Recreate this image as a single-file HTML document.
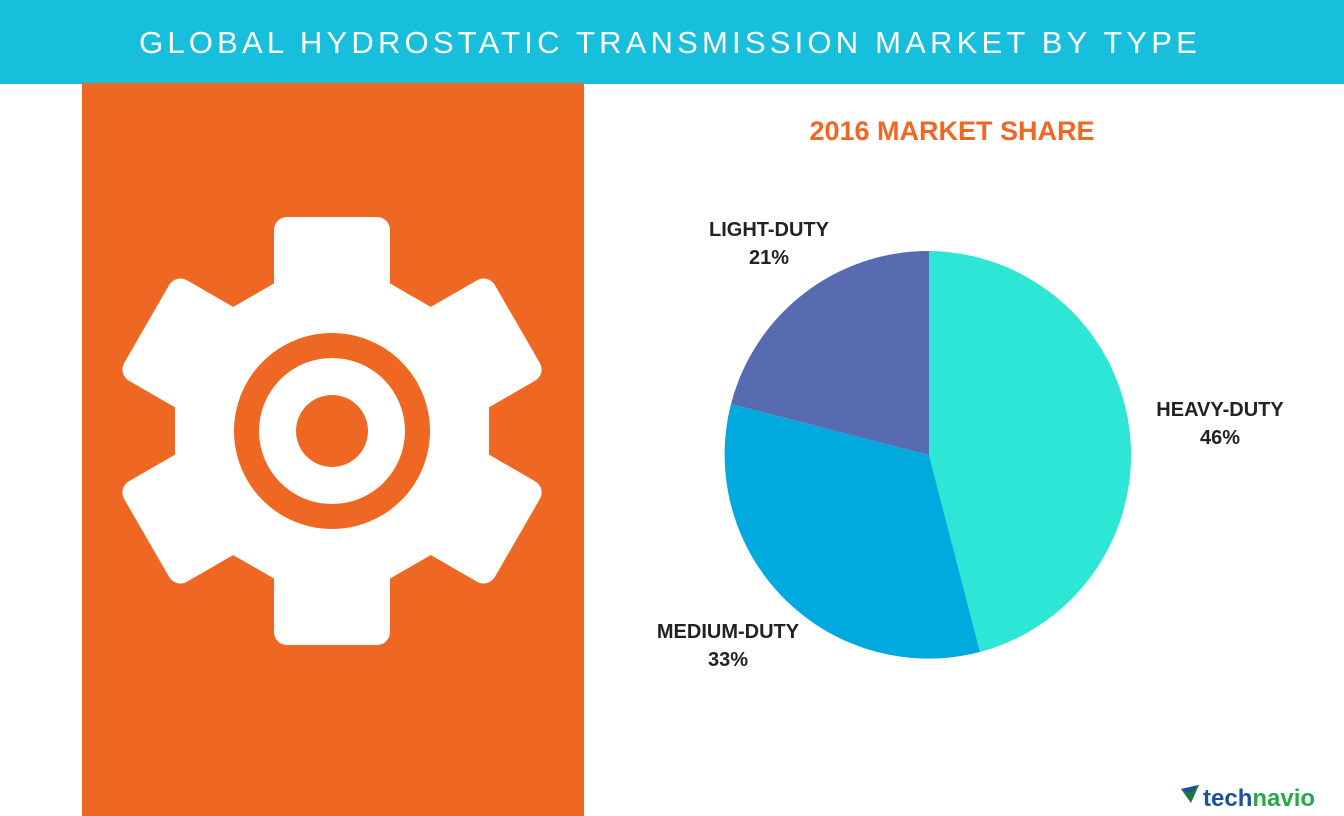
<!DOCTYPE html>
<html><head><meta charset="utf-8"><style>
html,body{margin:0;padding:0;width:1344px;height:816px;overflow:hidden;background:#fff;font-family:"Liberation Sans",sans-serif;}
</style></head><body>
<svg width="1344" height="816" viewBox="0 0 1344 816" xmlns="http://www.w3.org/2000/svg">
<rect x="0" y="0" width="1344" height="84" fill="#17bfdc"/>
<text x="670" y="53" text-anchor="middle" font-family="Liberation Sans, sans-serif" font-size="31" fill="#fff" letter-spacing="4.2">GLOBAL HYDROSTATIC TRANSMISSION MARKET BY TYPE</text>
<rect x="82" y="83" width="502" height="733" fill="#ef6823"/>
<g transform="translate(332,431)" fill="#fff">
<polygon points="0,-181 157,-90.5 157,90.5 0,181 -157,90.5 -157,-90.5"/>
<g id="t"><rect x="-58" y="-214" width="116" height="90" rx="13"/></g>
<use href="#t" transform="rotate(60)"/>
<use href="#t" transform="rotate(120)"/>
<use href="#t" transform="rotate(180)"/>
<use href="#t" transform="rotate(240)"/>
<use href="#t" transform="rotate(300)"/>
<circle r="98" fill="#ef6823"/>
<circle r="73" fill="#fff"/>
<circle r="36" fill="#ef6823"/>
</g>
<text x="952" y="140" text-anchor="middle" font-family="Liberation Sans, sans-serif" font-weight="bold" font-size="27" fill="#ef6823">2016 MARKET SHARE</text>
<path d="M929,455 L929,251 A204,204 0 0 1 980,652 Z" fill="#2ee6d6"/>
<path d="M929,455 L980,652 A204,204 0 0 1 731,404 Z" fill="#00a9de"/>
<path d="M929,455 L731,404 A204,204 0 0 1 929,251 Z" fill="#586bb0"/>
<g font-family="Liberation Sans, sans-serif" font-weight="bold" font-size="20" fill="#222" text-anchor="middle">
<text x="769" y="236">LIGHT-DUTY</text><text x="769" y="264">21%</text>
<text x="1220" y="416">HEAVY-DUTY</text><text x="1220" y="444">46%</text>
<text x="728" y="638">MEDIUM-DUTY</text><text x="728" y="666">33%</text>
</g>
<polygon points="1181,789 1199,785 1191,803" fill="#1a7a3a"/>
<polygon points="1181,789 1199,785 1190,793" fill="#1e4fa0"/>
<text x="1203" y="806" font-family="Liberation Sans, sans-serif" font-weight="bold" font-size="24" fill="#1e4fa0">tech<tspan fill="#2aa84a">navio</tspan></text>
</svg>
</body></html>
